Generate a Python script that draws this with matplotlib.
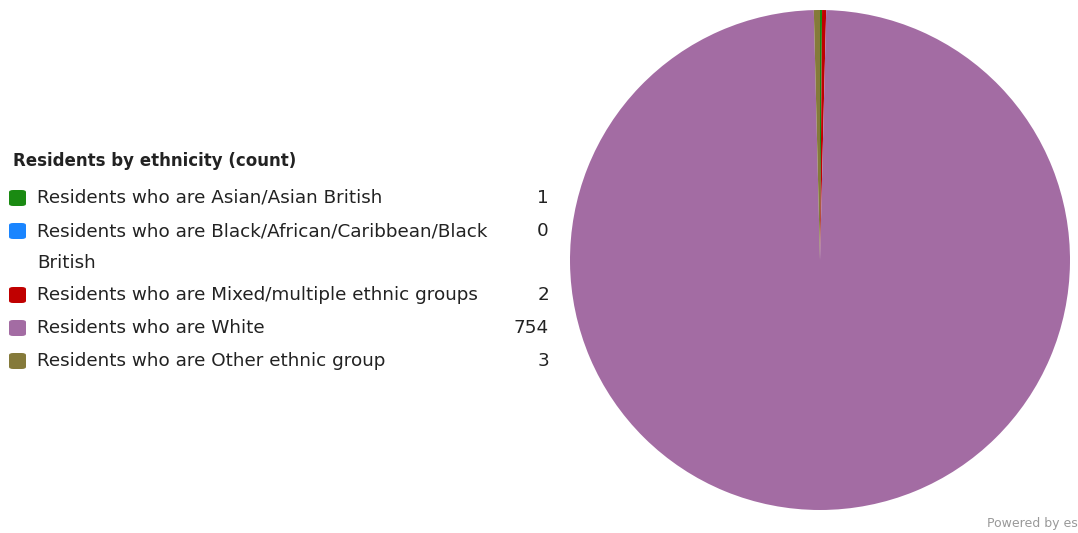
import matplotlib
matplotlib.use("Agg")
import matplotlib.pyplot as plt
from matplotlib.patches import FancyBboxPatch

categories = ["Residents who are Asian/Asian British",
              "Residents who are Black/African/Caribbean/Black\nBritish",
              "Residents who are Mixed/multiple ethnic groups",
              "Residents who are White",
              "Residents who are Other ethnic group"]
values = [1, 0, 2, 754, 3]
colors = ["#1a8a12", "#1a85ff", "#c00000", "#a36ca3", "#857a3a"]
title = "Residents by ethnicity (count)"

W, H = 1078, 533
fig = plt.figure(figsize=(W/100, H/100), dpi=100)

# pie axes: centre (820,260), radius 250 px
cx, cy, r = 820, 260, 250
ax = fig.add_axes([(cx - r)/W, 1 - (cy + r)/H, 2*r/W, 2*r/H])
ax.pie(values, colors=colors, startangle=90, counterclock=False,
       wedgeprops=dict(linewidth=0))
ax.set_aspect("equal")
ax.set_xlim(-1, 1); ax.set_ylim(-1, 1)
ax.axis("off")

font = "DejaVu Sans"
txtcol = "#222222"
fig.text(13/W, 1 - 161/H, title, fontsize=12, fontweight="bold",
         color=txtcol, va="center", ha="left", family=font)

row_y = [198, 231, 295, 328, 361]
for cat, val, col, y in zip(categories, values, colors, row_y):
    box = FancyBboxPatch((9/W, 1 - (y + 8)/H), 17/W, 16/H,
                         boxstyle="round,pad=0,rounding_size=0.004",
                         transform=fig.transFigure, facecolor=col,
                         edgecolor="none")
    fig.add_artist(box)
    lines = cat.split("\n")
    for i, ln in enumerate(lines):
        fig.text(37/W, 1 - (y + i*32)/H, ln, fontsize=13.2, color=txtcol,
                 va="center", ha="left", family=font)
    fig.text(549/W, 1 - y/H, str(val), fontsize=13.2, color=txtcol,
             va="center", ha="right", family=font)

fig.text(987/W, 1 - 523/H, "Powered by esri", fontsize=9, color="#999999",
         va="center", ha="left", family=font)

fig.savefig("out.png", dpi=100)
